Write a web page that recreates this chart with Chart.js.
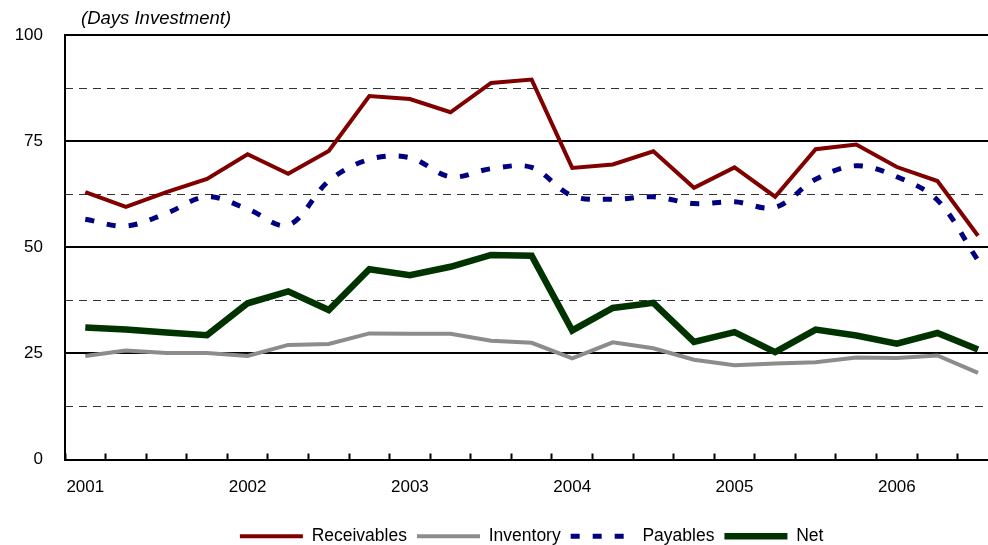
<!DOCTYPE html>
<html>
<head>
<meta charset="utf-8">
<script src="https://cdn.jsdelivr.net/npm/chart.js@4"></script>
<style>
  html, body { margin: 0; padding: 0; background: #fff; overflow: hidden; }
  #wrap { width: 1002px; height: 545px; position: relative; }
</style>
</head>
<body>
<div id="wrap"><canvas id="daysChart"></canvas></div>
<script>
// Trimestres 2001 T1 .. 2006 T3
const quarters = [
  '2001Q1', '2001Q2', '2001Q3', '2001Q4',
  '2002Q1', '2002Q2', '2002Q3', '2002Q4',
  '2003Q1', '2003Q2', '2003Q3', '2003Q4',
  '2004Q1', '2004Q2', '2004Q3', '2004Q4',
  '2005Q1', '2005Q2', '2005Q3', '2005Q4',
  '2006Q1', '2006Q2', '2006Q3'
];

const receivables = [63.0, 59.5, 63.0, 66.1, 71.9, 67.3, 72.7, 85.6, 84.9, 81.8, 88.7, 89.5,
  68.7, 69.5, 72.6, 64.0, 68.8, 61.9, 73.1, 74.2, 68.9, 65.6, 52.7];
const inventory = [24.4, 25.7, 25.1, 25.1, 24.4, 27.0, 27.2, 29.7, 29.6, 29.6, 28.0, 27.5,
  23.8, 27.6, 26.2, 23.5, 22.2, 22.6, 22.9, 24.0, 23.9, 24.5, 20.4];
const payables = [56.6, 55.0, 58.0, 61.9, 59.0, 55.2, 65.6, 70.7, 71.1, 66.6, 68.5, 68.8,
  62.1, 61.3, 61.9, 60.3, 60.7, 59.4, 66.0, 69.2, 66.6, 61.1, 46.9];
const net = [31.1, 30.6, 29.9, 29.3, 36.8, 39.6, 35.2, 44.8, 43.4, 45.4, 48.2, 48.0,
  30.4, 35.7, 36.9, 27.7, 30.0, 25.3, 30.6, 29.2, 27.3, 29.8, 25.9];

const yTicks = [0, 25, 50, 75, 100];
const titleText = '(Days Investment)';

const fontFamily = '"Liberation Sans", Arial, sans-serif';

// Título em itálico no canto superior esquerdo
const titlePlugin = {
  id: 'cornerTitle',
  afterDraw(chart) {
    const c = chart.ctx;
    c.save();
    c.font = 'italic 18.5px ' + fontFamily;
    c.fillStyle = '#000';
    c.textBaseline = 'middle';
    c.textAlign = 'left';
    c.fillText(titleText, chart.chartArea.left + 16, 19);
    c.restore();
  }
};

const ctx = document.getElementById('daysChart').getContext('2d');
const daysChart = new Chart(ctx, {
  type: 'line',
  data: {
    labels: quarters,
    datasets: [
      {
        label: 'Receivables',
        data: receivables,
        borderColor: '#800000',
        backgroundColor: '#800000',
        borderWidth: 4,
        tension: 0
      },
      {
        label: 'Inventory',
        data: inventory,
        borderColor: '#8c8c8c',
        backgroundColor: '#8c8c8c',
        borderWidth: 4,
        tension: 0
      },
      {
        label: 'Payables',
        data: payables,
        borderColor: '#000080',
        backgroundColor: '#000080',
        borderWidth: 5,
        borderDash: [9, 13],
        tension: 0.35
      },
      {
        label: 'Net',
        data: net,
        borderColor: '#003300',
        backgroundColor: '#003300',
        borderWidth: 6.5,
        tension: 0
      }
    ]
  },
  options: {
    responsive: true,
    maintainAspectRatio: false,
    animation: false,
    layout: {
      padding: { top: 35, left: 0, right: 0, bottom: -10 }
    },
    elements: {
      point: { radius: 0, hoverRadius: 0 },
      line: { borderCapStyle: 'butt', borderJoinStyle: 'miter' }
    },
    plugins: {
      legend: {
        position: 'bottom',
        fullSize: false,
        labels: {
          usePointStyle: true,
          pointStyle: 'line',
          pointStyleWidth: 63,
          boxHeight: 10,
          padding: 10,
          color: '#000',
          font: { family: fontFamily, size: 17.5 },
          // traço e espessura iguais aos da série
          generateLabels: function (chart) {
            const items = Chart.defaults.plugins.legend.labels.generateLabels(chart);
            items.forEach(item => {
              const ds = chart.data.datasets[item.datasetIndex];
              item.lineDash = ds.borderDash || [];
              item.lineWidth = ds.borderWidth;
              item.strokeStyle = ds.borderColor;
            });
            return items;
          }
        }
      },
      tooltip: { enabled: false }
    },
    scales: {
      x: {
        type: 'category',
        offset: true,
        grid: {
          offset: true,
          drawOnChartArea: false,
          drawTicks: true,
          tickLength: -6,
          tickColor: '#000',
          tickWidth: 2
        },
        border: { display: true, color: '#000', width: 2 },
        ticks: {
          autoSkip: false,
          maxRotation: 0,
          padding: 24,
          color: '#000',
          font: { family: fontFamily, size: 17 },
          callback: function (value) {
            const q = quarters[value];
            return q.endsWith('Q1') ? q.slice(0, 4) : '';
          }
        },
        afterFit: function (scale) { scale.height = 58; }
      },
      y: {
        min: 0,
        max: 100,
        position: 'left',
        afterBuildTicks: function (scale) {
          scale.ticks = yTicks.map(v => ({ value: v }));
        },
        grid: {
          color: '#000',
          lineWidth: 2,
          drawTicks: false
        },
        border: { display: true, color: '#000', width: 2 },
        ticks: {
          padding: 22,
          color: '#000',
          font: { family: fontFamily, size: 17 }
        },
        afterFit: function (scale) { scale.width = 65; }
      },
      // linhas tracejadas intermediárias (12.5, 37.5, ...)
      yMinor: {
        min: 0,
        max: 100,
        position: 'left',
        ticks: { display: false, stepSize: 12.5 },
        grid: {
          color: c => (c.tick && c.tick.value % 25 !== 0) ? '#333333' : 'rgba(0,0,0,0)',
          lineWidth: 1,
          drawTicks: false
        },
        border: { display: false, dash: [8, 6] },
        afterFit: function (scale) { scale.width = 0; }
      }
    }
  },
  plugins: [titlePlugin]
});
</script>
</body>
</html>
